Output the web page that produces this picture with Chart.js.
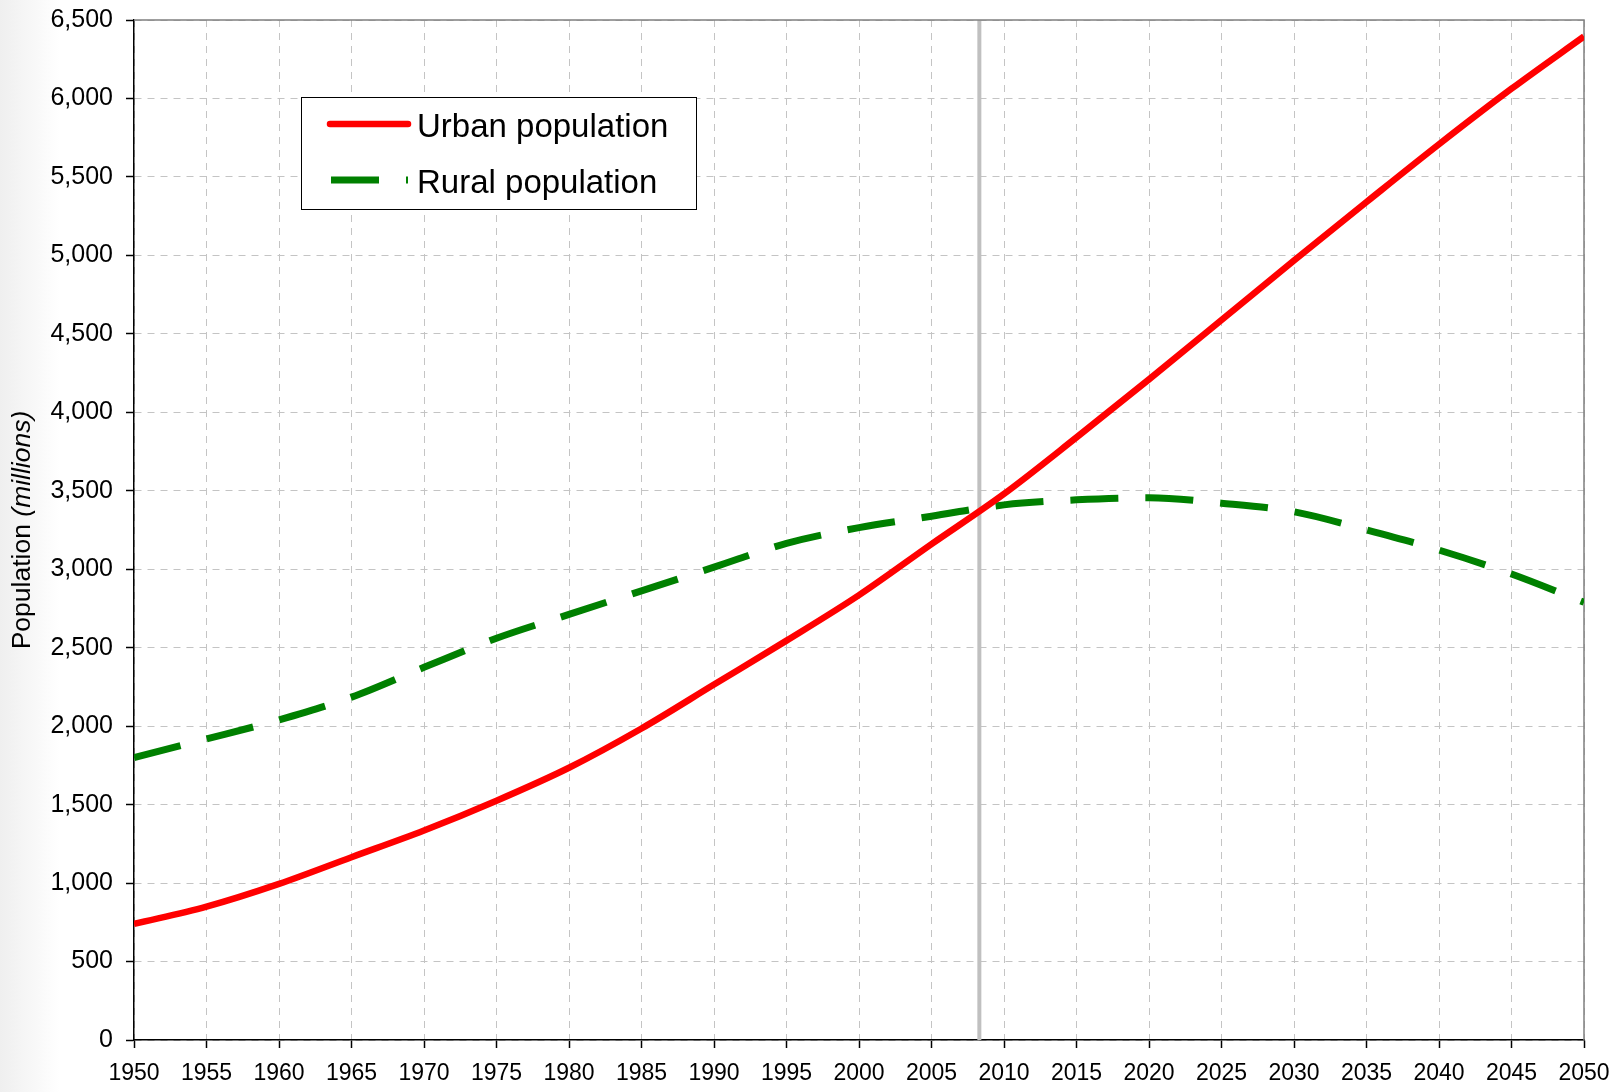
<!DOCTYPE html>
<html>
<head>
<meta charset="utf-8">
<script src="https://cdn.jsdelivr.net/npm/chart.js@4.4.1/dist/chart.umd.min.js"></script>
<style>
  html, body { margin: 0; padding: 0; }
  body { width: 1620px; height: 1092px; background: linear-gradient(to right, #efefef 0px, #ffffff 60px); }
  canvas { display: block; }
</style>
</head>
<body>
<canvas id="popChart" width="1620" height="1092"></canvas>
<script>
// world urban / rural population, millions
const years = [1950, 1955, 1960, 1965, 1970, 1975, 1980, 1985, 1990, 1995, 2000,
               2005, 2010, 2015, 2020, 2025, 2030, 2035, 2040, 2045, 2050];
const urbanPop = [740, 850, 995, 1165, 1335, 1525, 1735, 1985, 2265, 2545, 2835,
                  3160, 3480, 3840, 4210, 4588, 4968, 5340, 5708, 6062, 6395];
const ruralPop = [1800, 1918, 2040, 2185, 2375, 2560, 2712, 2862, 3013, 3165, 3265,
                  3338, 3410, 3442, 3455, 3421, 3366, 3250, 3122, 2970, 2790];
const crossoverYear = 2008.3;
const yTitle = 'Population';
const yTitleUnit = '(millions)';

const FONT = '"Liberation Sans", Arial, sans-serif';
const toXY = (vals) => years.map((x, i) => ({ x: x, y: vals[i] }));

// grey line at the crossover + top/right frame
const markerLine = {
  id: 'markerLine',
  beforeDatasetsDraw(chart) {
    const { ctx, chartArea: a, scales: { x } } = chart;
    const px = x.getPixelForValue(crossoverYear);
    ctx.save();
    ctx.strokeStyle = '#c0c0c0';
    ctx.lineWidth = 4;
    ctx.beginPath(); ctx.moveTo(px, a.top); ctx.lineTo(px, a.bottom); ctx.stroke();
    ctx.strokeStyle = '#808080';
    ctx.lineWidth = 1.5;
    ctx.beginPath(); ctx.moveTo(a.left, a.top); ctx.lineTo(a.right, a.top); ctx.lineTo(a.right, a.bottom); ctx.stroke();
    ctx.restore();
  }
};

// boxed legend inside the plot
const boxLegend = {
  id: 'boxLegend',
  afterDatasetsDraw(chart) {
    const ctx = chart.ctx;
    ctx.save();
    ctx.fillStyle = '#ffffff';
    ctx.fillRect(301, 97, 395, 112);
    ctx.strokeStyle = '#000000';
    ctx.lineWidth = 1;
    ctx.strokeRect(301.5, 97.5, 395, 112);
    const rows = [124, 180];
    chart.data.datasets.forEach((ds, i) => {
      const y = rows[i];
      ctx.strokeStyle = ds.borderColor;
      ctx.lineWidth = ds.borderWidth;
      ctx.lineCap = ds.borderDash ? 'butt' : 'round';
      ctx.setLineDash(ds.borderDash || []);
      ctx.beginPath(); ctx.moveTo(ds.borderDash ? 331 : 330, y); ctx.lineTo(408, y); ctx.stroke();
      ctx.setLineDash([]);
      ctx.fillStyle = '#000000';
      ctx.font = '33px ' + FONT;
      ctx.textBaseline = 'alphabetic';
      ctx.textAlign = 'left';
      ctx.fillText(ds.label, 417, y + 13);
    });
    ctx.restore();
  }
};

// y title with italic unit
const yAxisTitle = {
  id: 'yAxisTitle',
  afterDraw(chart) {
    const { ctx, chartArea: a } = chart;
    const normal = '26.5px ' + FONT;
    const italic = 'italic 26.5px ' + FONT;
    ctx.save();
    ctx.font = normal;
    const w1 = ctx.measureText(yTitle + ' ').width;
    ctx.font = italic;
    const w2 = ctx.measureText(yTitleUnit).width;
    ctx.translate(23, (a.top + a.bottom) / 2);
    ctx.rotate(-Math.PI / 2);
    ctx.fillStyle = '#000000';
    ctx.textBaseline = 'middle';
    ctx.textAlign = 'left';
    const start = -(w1 + w2) / 2;
    ctx.font = normal;
    ctx.fillText(yTitle + ' ', start, 0);
    ctx.font = italic;
    ctx.fillText(yTitleUnit, start + w1, 0);
    ctx.restore();
  }
};

new Chart(document.getElementById('popChart').getContext('2d'), {
  type: 'line',
  data: {
    datasets: [
      { label: 'Urban population', data: toXY(urbanPop), borderColor: '#ff0000', borderWidth: 6.5,
        pointRadius: 0, cubicInterpolationMode: 'monotone', fill: false },
      { label: 'Rural population', data: toXY(ruralPop), borderColor: '#008000', borderWidth: 7,
        borderDash: [48, 27], borderCapStyle: 'butt', pointRadius: 0, cubicInterpolationMode: 'monotone', fill: false }
    ]
  },
  options: {
    responsive: false,
    animation: false,
    layout: { padding: { top: 20, right: 36, left: 0, bottom: 0 } },
    plugins: { legend: { display: false }, tooltip: { enabled: false } },
    scales: {
      x: {
        type: 'linear', min: 1950, max: 2050,
        afterFit: (s) => { s.height = 52; s.paddingLeft = 0; s.paddingRight = 0; },
        ticks: { stepSize: 5, autoSkip: false, maxRotation: 0, padding: 12, color: '#000',
                 font: { family: FONT, size: 23 }, callback: (v) => String(v) },
        grid: { color: '#c4c4c4', lineWidth: 1, tickLength: 8, tickColor: '#000', tickWidth: 1.5, tickBorderDash: [] },
        border: { color: '#000', width: 1.5, dash: [7, 6] }
      },
      y: {
        min: 0, max: 6500,
        afterFit: (s) => { s.width = 134; s.paddingTop = 0; s.paddingBottom = 0; },
        ticks: { stepSize: 500, padding: 13, color: '#000', font: { family: FONT, size: 25 },
                 callback: (v) => v.toLocaleString('en-US') },
        grid: { color: '#c4c4c4', lineWidth: 1, tickLength: 8, tickColor: '#000', tickWidth: 1.5, tickBorderDash: [] },
        border: { color: '#000', width: 1.5, dash: [7, 6] }
      }
    }
  },
  plugins: [markerLine, boxLegend, yAxisTitle]
});
</script>
</body>
</html>
